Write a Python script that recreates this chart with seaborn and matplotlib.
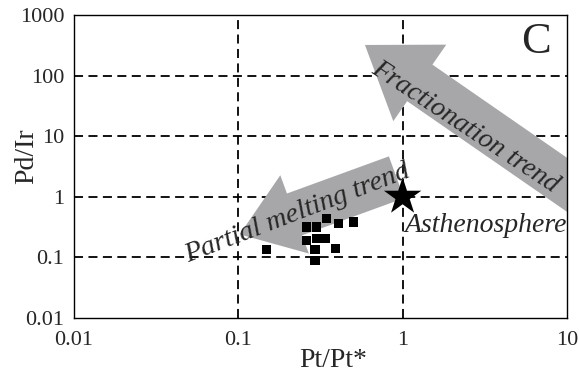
import matplotlib
matplotlib.use("Agg")
import matplotlib.pyplot as plt
import seaborn as sns
import pandas as pd
from matplotlib.patches import FancyArrowPatch

# samples (Pt/Pt*, Pd/Ir)
pt_pt = [0.149, 0.293, 0.293, 0.261, 0.300, 0.337, 0.392, 0.261, 0.300, 0.345, 0.406, 0.501]
pd_ir = [0.134, 0.089, 0.134, 0.191, 0.204, 0.204, 0.139, 0.317, 0.317, 0.436, 0.360, 0.383]

# asthenosphere reference point
asth_x = [1.0]
asth_y = [1.0]

# trend arrows: (tail, head) in data units
frac_tail, frac_head = (14.0, 0.843), (0.590, 319.0)
melt_tail, melt_head = (0.918, 2.10), (0.102, 0.240)

ticks = [0.01, 0.1, 1, 10, 100, 1000]
tick_labels = ["0.01", "0.1", "1", "10", "100", "1000"]

sns.set_style("white")
plt.rcParams['font.family'] = ['Liberation Serif', 'DejaVu Serif']

fig = plt.figure(figsize=(5.79, 3.72), dpi=100)
ax = fig.add_axes([0.128, 0.145, 0.851, 0.815])
ax.set_xscale("log")
ax.set_yscale("log")
ax.set_xlim(0.01, 10)
ax.set_ylim(0.01, 1000)

# dashed grid at inner decades
for v in [0.1, 1]:
    ax.axvline(v, color="black", lw=1.3, ls=(0, (5, 3)), zorder=1)
for v in [0.1, 1, 10, 100]:
    ax.axhline(v, color="black", lw=1.3, ls=(0, (5, 3)), zorder=1)

gray = "#a7a7a9"
frac = FancyArrowPatch(frac_tail, frac_head, transform=ax.transData,
                       arrowstyle="simple,head_length=48,head_width=67,tail_width=32",
                       mutation_scale=1, shrinkA=0, shrinkB=0,
                       fc=gray, ec="none", zorder=2)
ax.add_patch(frac)
melt = FancyArrowPatch(melt_tail, melt_head, transform=ax.transData,
                       arrowstyle="simple,head_length=42,head_width=60,tail_width=32",
                       mutation_scale=1, shrinkA=0, shrinkB=0,
                       fc=gray, ec="none", zorder=2)
ax.add_patch(melt)

df = pd.DataFrame({"pt": pt_pt, "pd": pd_ir})
sns.scatterplot(data=df, x="pt", y="pd", marker="s", s=45, color="black",
                edgecolor="none", ax=ax, zorder=4)
sns.scatterplot(x=asth_x, y=asth_y, marker="*", s=800, color="black",
                edgecolor="none", ax=ax, zorder=5)

ax.text(0.228, 0.53, "Partial melting trend", fontsize=20.5, style="italic",
        rotation=21, rotation_mode="anchor", ha="center", va="center",
        transform=ax.transData, zorder=6)
ax.text(2.4, 14.1, "Fractionation trend", fontsize=20, style="italic",
        rotation=-33.5, rotation_mode="anchor", ha="center", va="center",
        transform=ax.transData, zorder=6)
ax.text(1.034, 0.338, "Asthenosphere", fontsize=20, style="italic",
        ha="left", va="center", zorder=6)
ax.text(0.968, 0.909, "C", fontsize=32, transform=ax.transAxes,
        ha="right", va="center")

ax.set_xticks(ticks[:4])
ax.set_xticklabels(tick_labels[:4])
ax.set_yticks(ticks)
ax.set_yticklabels(tick_labels)
ax.minorticks_off()
ax.tick_params(length=0, labelsize=16)
ax.tick_params(axis="x", pad=9)
ax.tick_params(axis="y", pad=7)
ax.set_xlabel("Pt/Pt*", fontsize=20, va="baseline")
ax.set_ylabel("Pd/Ir", fontsize=20, va="baseline")
ax.xaxis.set_label_coords(0.525, -0.163)
ax.yaxis.set_label_coords(-0.083, 0.535)
for s in ax.spines.values():
    s.set_color("black")
    s.set_linewidth(1.0)

fig.savefig("out.png", dpi=100)
